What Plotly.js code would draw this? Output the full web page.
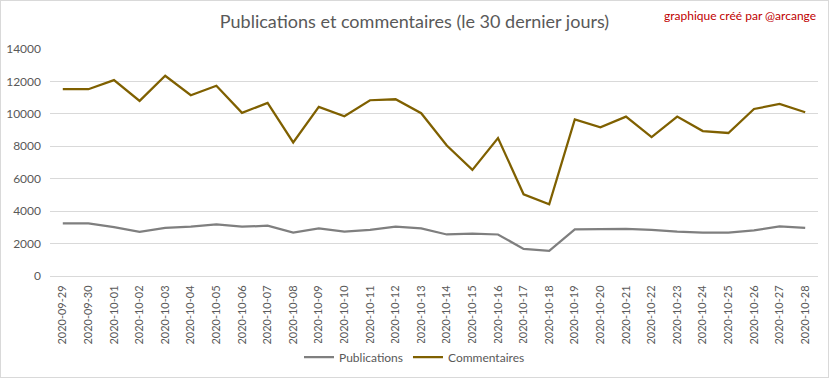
<!DOCTYPE html>
<html>
<head>
<meta charset="utf-8">
<script src="https://cdn.plot.ly/plotly-3.0.1.min.js"></script>
<style>
html,body{margin:0;padding:0;background:#fff;}
#chart{width:829px;height:378px;border:1px solid #d9d9d9;box-sizing:border-box;}
</style>
</head>
<body>
<div id="chart"></div>
<script>
const dates = ["2020-09-29","2020-09-30","2020-10-01","2020-10-02","2020-10-03","2020-10-04","2020-10-05","2020-10-06","2020-10-07","2020-10-08","2020-10-09","2020-10-10","2020-10-11","2020-10-12","2020-10-13","2020-10-14","2020-10-15","2020-10-16","2020-10-17","2020-10-18","2020-10-19","2020-10-20","2020-10-21","2020-10-22","2020-10-23","2020-10-24","2020-10-25","2020-10-26","2020-10-27","2020-10-28"];
const publications = [3240,3240,3010,2730,2970,3040,3180,3040,3100,2680,2930,2730,2850,3040,2930,2560,2620,2560,1670,1550,2870,2870,2910,2850,2730,2680,2680,2810,3060,2970];
const commentaires = [11520,11520,12080,10800,12350,11150,11730,10060,10680,8240,10430,9850,10840,10900,10040,8050,6545,8510,5040,4420,9660,9170,9830,8570,9830,8940,8820,10300,10610,10100];
const yTicks = [0,2000,4000,6000,8000,10000,12000,14000];

const font = "Lato, 'Open Sans', sans-serif";
const traces = [
  {x: dates, y: publications, name: "Publications", type: "scatter", mode: "lines",
   line: {color: "#7f7f7f", width: 2.25}},
  {x: dates, y: commentaires, name: "Commentaires", type: "scatter", mode: "lines",
   line: {color: "#7f6000", width: 2.25}}
];
const H = 376, T = 48, B = 101;
const plotH = H - T - B;
const layout = {
  width: 827, height: H,
  margin: {l: 49, r: 10, t: T, b: B},
  paper_bgcolor: "#fff", plot_bgcolor: "#fff",
  font: {family: font, color: "#595959"},
  title: {text: "Publications et commentaires (le 30 dernier jours)", x: 0.5, xref: "container", xanchor: "center",
          y: 1 - 21 / H, yref: "container", yanchor: "middle",
          font: {family: font, size: 18, color: "#595959"}},
  xaxis: {type: "category", range: [-0.5, dates.length - 0.5], tickangle: -90, showgrid: false,
          showline: true, linecolor: "#d9d9d9", linewidth: 1, ticks: "", automargin: false,
          ticklabelstandoff: 4,
          tickfont: {family: font, size: 11, color: "#595959"}, fixedrange: true},
  yaxis: {range: [0, 14000], tickvals: yTicks, ticktext: yTicks.map(String), showgrid: true,
          gridcolor: "#d9d9d9", zeroline: false, showline: false, ticks: "", automargin: false,
          ticklabelstandoff: 8,
          tickfont: {family: font, size: 12, color: "#595959"}, fixedrange: true},
  legend: {orientation: "h", x: 0.5, xanchor: "center", xref: "container", y: 1 - 356 / H, yref: "container", yanchor: "middle",
           font: {family: font, size: 12, color: "#595959"}},
  annotations: [{text: "graphique créé par @arcange", xref: "paper", yref: "paper", x: 1, xanchor: "right",
                 y: (H - B - 15) / plotH, yanchor: "middle", showarrow: false,
                 font: {family: font, size: 12, color: "#c00000"}}],
  showlegend: true
};
Plotly.newPlot("chart", traces, layout, {displayModeBar: false, staticPlot: true});
</script>
</body>
</html>
